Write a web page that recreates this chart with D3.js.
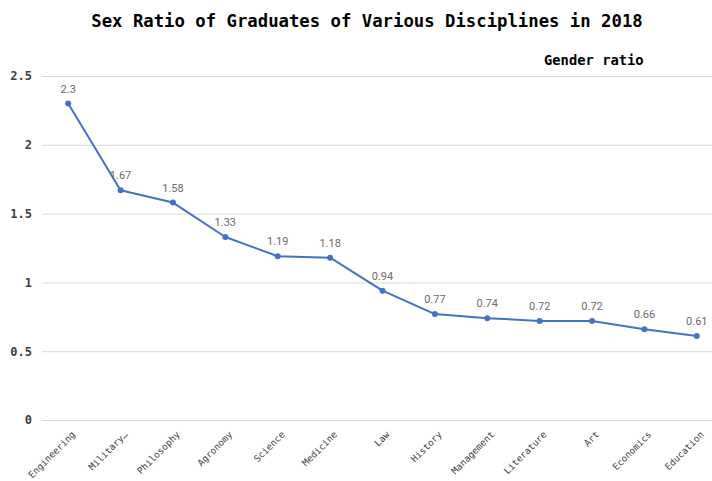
<!DOCTYPE html>
<html>
<head>
<meta charset="utf-8">
<script src="https://cdn.jsdelivr.net/npm/d3@7"></script>
<style>
  body { margin: 0; background: #fff; }
  svg { display: block; }
</style>
</head>
<body>
<div id="chart"></div>
<script>
// Data
const disciplines = ['Engineering', 'Military\u2026', 'Philosophy', 'Agronomy', 'Science', 'Medicine',
    'Law', 'History', 'Management', 'Literature', 'Art', 'Economics', 'Education'];
const genderRatio = [2.3, 1.67, 1.58, 1.33, 1.19, 1.18, 0.94, 0.77, 0.74, 0.72, 0.72, 0.66, 0.61];
const yTicks = [0, 0.5, 1, 1.5, 2, 2.5];

const width = 712, height = 481;
const margin = { top: 76, right: -11, bottom: 61, left: 42 };
const mono = '"DejaVu Sans Mono", "Liberation Mono", monospace';

const svg = d3.select('#chart').append('svg')
    .attr('width', width)
    .attr('height', height);

const x = d3.scalePoint()
    .domain(disciplines)
    .range([margin.left, width - margin.right])
    .padding(0.5);

const y = d3.scaleLinear()
    .domain([0, 2.5])
    .range([height - margin.bottom, margin.top]);

// Title
svg.append('text')
    .attr('x', 367)
    .attr('y', 27)
    .attr('text-anchor', 'middle')
    .attr('font-family', mono)
    .attr('font-weight', 'bold')
    .attr('font-size', '17.3px')
    .attr('fill', '#000')
    .text('Sex Ratio of Graduates of Various Disciplines in 2018');

// Legend label
svg.append('text')
    .attr('x', 544)
    .attr('y', 65)
    .attr('font-family', mono)
    .attr('font-weight', 'bold')
    .attr('font-size', '13.8px')
    .attr('fill', '#000')
    .text('Gender ratio');

// Grid lines + y labels
const yAxis = d3.axisLeft(y)
    .tickValues(yTicks)
    .tickSize(-(width - margin.left))
    .tickFormat(d => d);

const yg = svg.append('g')
    .attr('transform', `translate(${margin.left},0)`)
    .call(yAxis);
yg.select('.domain').remove();
yg.selectAll('.tick line').attr('stroke', '#d9d9d9').attr('stroke-width', 1);
yg.selectAll('.tick text')
    .attr('x', -10)
    .attr('font-family', mono)
    .attr('font-weight', 'bold')
    .attr('font-size', '12px')
    .attr('fill', '#404040');

// X axis labels, rotated
const xAxis = d3.axisBottom(x).tickSize(0);
const xg = svg.append('g')
    .attr('transform', `translate(0,${height - margin.bottom})`)
    .call(xAxis);
xg.select('.domain').remove();
xg.selectAll('.tick text')
    .attr('font-family', mono)
    .attr('font-size', '9.3px')
    .attr('fill', '#404040')
    .attr('text-anchor', 'end')
    .attr('dy', 0)
    .attr('transform', 'translate(5,13) rotate(-45)');

// Line
const line = d3.line()
    .x((d, i) => x(disciplines[i]))
    .y(d => y(d));

svg.append('path')
    .datum(genderRatio)
    .attr('d', line)
    .attr('fill', 'none')
    .attr('stroke', '#4472c4')
    .attr('stroke-width', 2)
    .attr('stroke-linejoin', 'round');

svg.selectAll('.dot')
    .data(genderRatio)
    .enter()
    .append('circle')
    .attr('class', 'dot')
    .attr('cx', (d, i) => x(disciplines[i]))
    .attr('cy', d => y(d))
    .attr('r', 3)
    .attr('fill', '#4472c4');

// Value labels
svg.selectAll('.val')
    .data(genderRatio)
    .enter()
    .append('text')
    .attr('class', 'val')
    .attr('x', (d, i) => x(disciplines[i]))
    .attr('y', d => y(d) - 11)
    .attr('text-anchor', 'middle')
    .attr('font-family', '"Liberation Sans Narrow", "Roboto", sans-serif')
    .attr('font-size', '11px')
    .attr('fill', '#6b6b6b')
    .text(d => d);
</script>
</body>
</html>
